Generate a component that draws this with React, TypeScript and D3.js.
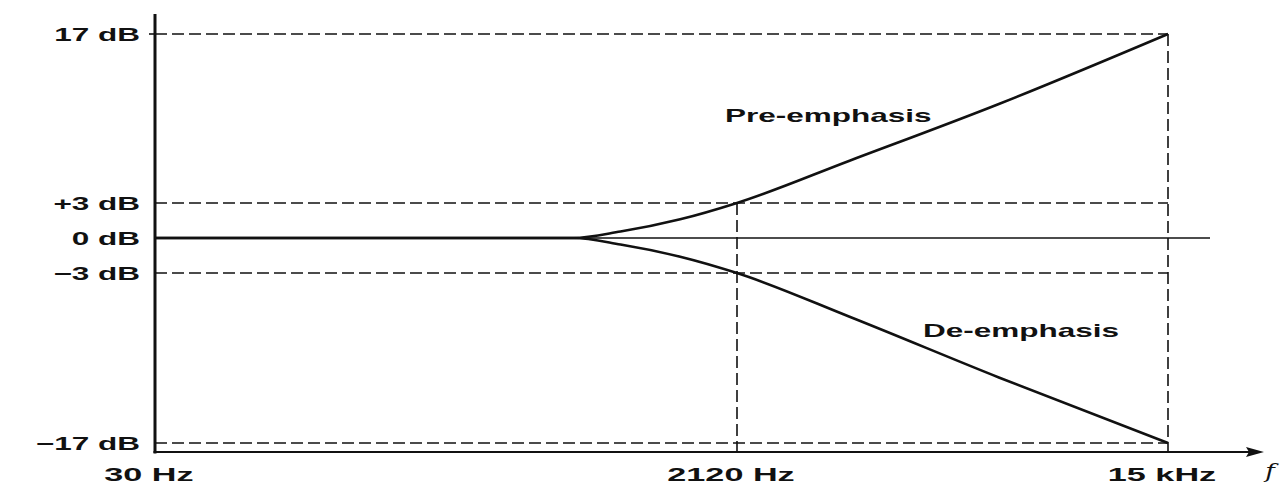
import React from 'react';
import * as d3 from 'd3';

// values (frequency in Hz, level in dB)
const freqs = [30, 640, 904, 1399, 2120, 3534, 6960, 15000];
const preEmphasisDb = [0, 0, 0.55, 1.6, 3, 6.5, 11.2, 17];
const deEmphasisDb = [0, 0, -0.55, -1.6, -3, -6.6, -11.6, -17];

const levelTicks = [17, 3, 0, -3, -17];
const levelLabels = ['17 dB', '+3 dB', '0 dB', '\u22123 dB', '\u221217 dB'];
const freqTicks = [30, 2120, 15000];
const freqLabels = ['30 Hz', '2120 Hz', '15 kHz'];

const W = 1287;
const H = 489;
const INK = '#111';

// schematic drawing: piecewise scales pinned to the marked values
const x = d3.scaleLog().domain([30, 2120, 15000]).range([155, 737, 1168]);
const y = d3.scaleLinear().domain([-17, -3, 0, 3, 17]).range([443, 273, 238, 203, 34]);
const axisY = 452;

const line = d3
  .line<number>()
  .x((_, i) => x(freqs[i]))
  .y((d) => y(d))
  .curve(d3.curveMonotoneX);

// the scan is stretched sideways, so the lettering is too
const Txt = ({ x, y, anchor = 'start', size = 18, stretch = 1.75, italic = false, children }: any) => (
  <text
    transform={`translate(${x},${y}) scale(${stretch},1)`}
    textAnchor={anchor}
    fontFamily={italic ? 'DejaVu Serif, serif' : 'Liberation Sans, Arial, sans-serif'}
    fontWeight={italic ? 400 : 700}
    fontStyle={italic ? 'italic' : 'normal'}
    fontSize={size}
    fill={INK}
  >
    {children}
  </text>
);

export default function App() {
  const x0 = x(30);
  const x2120 = x(2120);
  const x15k = x(15000);
  const dash = '12 5';

  return (
    <svg width={W} height={H} style={{ position: 'absolute', left: 0, top: 0, background: '#fff' }}>
      {/* dashed guides */}
      <g stroke={INK} strokeWidth={1.6} strokeDasharray={dash} fill="none">
        {[17, 3, -3, -17].map((v) => (
          <line key={v} x1={x0} x2={x15k} y1={y(v)} y2={y(v)} />
        ))}
        <line x1={x15k} x2={x15k} y1={y(17)} y2={axisY} />
        <line x1={x2120} x2={x2120} y1={y(3)} y2={axisY} />
      </g>

      {/* 0 dB reference line */}
      <line x1={x0} x2={1210} y1={y(0)} y2={y(0)} stroke={INK} strokeWidth={1.3} />

      {/* curves */}
      <path d={line(preEmphasisDb) || ''} fill="none" stroke={INK} strokeWidth={2.6} />
      <path d={line(deEmphasisDb) || ''} fill="none" stroke={INK} strokeWidth={2.6} />

      {/* axes */}
      <line x1={x0} x2={x0} y1={14} y2={axisY + 1.5} stroke={INK} strokeWidth={3} />
      <line x1={x0 - 1.5} x2={1252} y1={axisY} y2={axisY} stroke={INK} strokeWidth={2.2} />
      <path d={`M1264,${axisY} L1246,${axisY - 5} L1249,${axisY} L1246,${axisY + 5} Z`} fill={INK} />
      <line x1={x0 - 6} x2={x0} y1={y(17)} y2={y(17)} stroke={INK} strokeWidth={1.6} />

      {/* level labels */}
      {levelTicks.map((v, i) => (
        <Txt key={v} x={140} y={y(v) + 6.5} anchor="end">
          {levelLabels[i]}
        </Txt>
      ))}

      {/* frequency labels */}
      {freqTicks.map((f, i) => (
        <Txt key={f} x={x(f) - 6} y={481} anchor="middle" stretch={1.9}>
          {freqLabels[i]}
        </Txt>
      ))}
      <Txt x={1270} y={478} anchor="middle" italic size={20} stretch={1.3}>
        f
      </Txt>

      {/* curve labels */}
      <Txt x={725} y={122}>Pre-emphasis</Txt>
      <Txt x={923} y={337}>De-emphasis</Txt>
    </svg>
  );
}
